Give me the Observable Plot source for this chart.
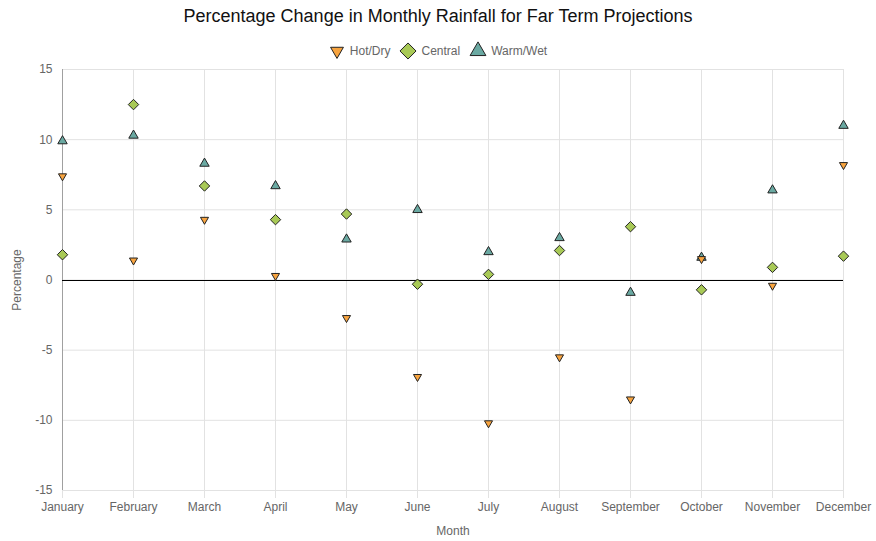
<!DOCTYPE html>
<html>
<head>
<meta charset="utf-8">
<script src="https://cdn.jsdelivr.net/npm/d3@7"></script>
<script src="https://cdn.jsdelivr.net/npm/@observablehq/plot@0.6"></script>
<style>
  html, body { margin: 0; padding: 0; background: #fff; }
  body { width: 876px; font-family: Arial, "Liberation Sans", sans-serif; }
  #title { height: 32px; line-height: 32px; text-align: center; font-size: 18px; color: #111; }
  #legend { height: 18px; padding-top: 10px; display: flex; justify-content: center; align-items: center; font-size: 12px; color: #666; }
  #legend .item { display: flex; align-items: center; margin: 0 5px; }
  #legend svg { margin-right: 5px; overflow: visible; }
  #chart svg { display: block; }
</style>
</head>
<body>
<div id="title">Percentage Change in Monthly Rainfall for Far Term Projections</div>
<div id="legend"></div>
<div id="chart"></div>
<script>
const months = ["January", "February", "March", "April", "May", "June", "July", "August", "September", "October", "November", "December"];
const hotDry  = [7.4, 1.4, 4.3, 0.3, -2.7, -6.9, -10.2, -5.5, -8.5, 1.5, -0.4, 8.2];
const central = [1.8, 12.5, 6.7, 4.3, 4.7, -0.3, 0.4, 2.1, 3.8, -0.7, 0.9, 1.7];
const warmWet = [9.9, 10.3, 8.3, 6.7, 2.9, 5.0, 2.0, 3.0, -0.9, 1.6, 6.4, 11.0];
const yTicks = [-15, -10, -5, 0, 5, 10, 15];

const seriesNames = ["Hot/Dry", "Central", "Warm/Wet"];
const seriesColors = ["#f8a43f", "#a8c956", "#6aa9a2"];

const rows = (vals) => months.map((m, i) => ({month: m, value: vals[i]}));

// legend built from d3 symbol paths
const legendSymbols = [
  {type: d3.symbolTriangle, size: 72, rotate: 180},
  {type: d3.symbolDiamond2, size: 165, rotate: 0},
  {type: d3.symbolTriangle, size: 108, rotate: 0}
];
const legend = d3.select("#legend");
seriesNames.forEach((name, i) => {
  const item = legend.append("div").attr("class", "item");
  const s = item.append("svg").attr("width", 16).attr("height", 16);
  s.append("path")
    .attr("d", d3.symbol(legendSymbols[i].type, legendSymbols[i].size)())
    .attr("transform", `translate(8,8) rotate(${legendSymbols[i].rotate})`)
    .attr("fill", seriesColors[i])
    .attr("stroke", "#222")
    .attr("stroke-width", 1);
  item.append("span").text(name);
});

const chart = Plot.plot({
  width: 876,
  height: 481,
  marginTop: 9,
  marginBottom: 51,
  marginLeft: 62,
  marginRight: 33,
  style: {fontFamily: "Arial, 'Liberation Sans', sans-serif", fontSize: "12px", color: "#666", background: "#fff"},
  x: {type: "point", domain: months, padding: 0},
  y: {domain: [-15, 15]},
  marks: [
    Plot.gridX(months, {stroke: "#e2e2e2", strokeOpacity: 1}),
    Plot.gridY(yTicks, {stroke: "#e2e2e2", strokeOpacity: 1}),
    Plot.axisX(months, {tickSize: 8, tickPadding: 4, stroke: "#e2e2e2", fill: "#666", fontSize: 12,
      label: "Month", labelAnchor: "center", labelOffset: 44, labelArrow: false}),
    Plot.axisY(yTicks, {tickSize: 0, tickPadding: 10, fill: "#666", fontSize: 12, tickFormat: (d) => String(d),
      label: "Percentage", labelAnchor: "center", labelOffset: 50, labelArrow: false}),
    Plot.ruleX([months[0]], {stroke: "#a0a0a0"}),
    Plot.ruleY([0], {stroke: "#000", shapeRendering: "crispEdges"}),
    Plot.dot(rows(warmWet), {x: "month", y: "value", symbol: "triangle", r: 3.5,
      fill: seriesColors[2], stroke: "#222", strokeWidth: 1}),
    Plot.dot(rows(central), {x: "month", y: "value", symbol: "diamond2", r: 4.7,
      fill: seriesColors[1], stroke: "#222", strokeWidth: 1}),
    Plot.dot(rows(hotDry), {x: "month", y: "value", symbol: "triangle", rotate: 180, r: 3,
      fill: seriesColors[0], stroke: "#222", strokeWidth: 1})
  ]
});
document.getElementById("chart").appendChild(chart);
</script>
</body>
</html>
